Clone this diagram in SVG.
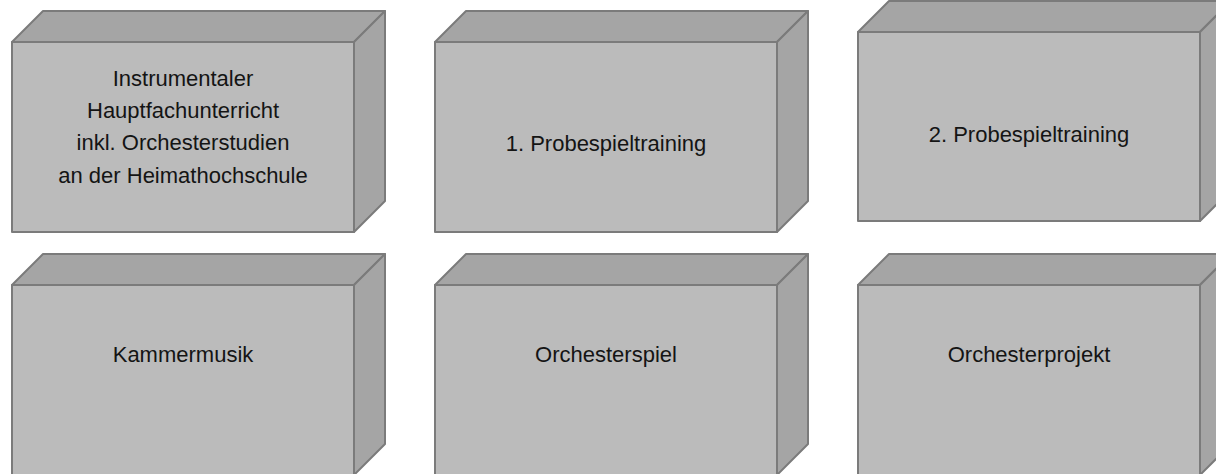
<svg xmlns="http://www.w3.org/2000/svg" width="1216" height="474" viewBox="0 0 1216 474">
<style>
.front{fill:#bbbbbb;stroke:#7b7b7b;stroke-width:2;stroke-linejoin:round}
.side{fill:#a5a5a5;stroke:#7b7b7b;stroke-width:2;stroke-linejoin:round}
.lbl{font-family:"Liberation Sans",Arial,sans-serif;font-size:22px;fill:#141414;text-anchor:middle}
</style>
<rect width="1216" height="474" fill="#ffffff"/>
<g id="connectors"/>
<g id="node1">
<polygon class="side" points="12,42 43,11 385,11 354,42"/>
<polygon class="side" points="354,42 385,11 385,201 354,232"/>
<rect class="front" x="12" y="42" width="342" height="190"/>
<text class="lbl" x="183" y="86">Instrumentaler</text>
<text class="lbl" x="183" y="118">Hauptfachunterricht</text>
<text class="lbl" x="183" y="150">inkl. Orchesterstudien</text>
<text class="lbl" x="183" y="183">an der Heimathochschule</text>
</g>
<g id="node2">
<polygon class="side" points="435,42 466,11 808,11 777,42"/>
<polygon class="side" points="777,42 808,11 808,201 777,232"/>
<rect class="front" x="435" y="42" width="342" height="190"/>
<text class="lbl" x="606" y="151">1. Probespieltraining</text>
</g>
<g id="node3">
<polygon class="side" points="858,32 889,1 1231,1 1200,32"/>
<polygon class="side" points="1200,32 1231,1 1231,190 1200,221"/>
<rect class="front" x="858" y="32" width="342" height="189"/>
<text class="lbl" x="1029" y="142">2. Probespieltraining</text>
</g>
<g id="node4">
<polygon class="side" points="12,285 43,254 385,254 354,285"/>
<polygon class="side" points="354,285 385,254 385,444 354,475"/>
<rect class="front" x="12" y="285" width="342" height="190"/>
<text class="lbl" x="183" y="362">Kammermusik</text>
</g>
<g id="node5">
<polygon class="side" points="435,285 466,254 808,254 777,285"/>
<polygon class="side" points="777,285 808,254 808,444 777,475"/>
<rect class="front" x="435" y="285" width="342" height="190"/>
<text class="lbl" x="606" y="362">Orchesterspiel</text>
</g>
<g id="node6">
<polygon class="side" points="858,285 889,254 1231,254 1200,285"/>
<polygon class="side" points="1200,285 1231,254 1231,444 1200,475"/>
<rect class="front" x="858" y="285" width="342" height="190"/>
<text class="lbl" x="1029" y="362">Orchesterprojekt</text>
</g>
</svg>
